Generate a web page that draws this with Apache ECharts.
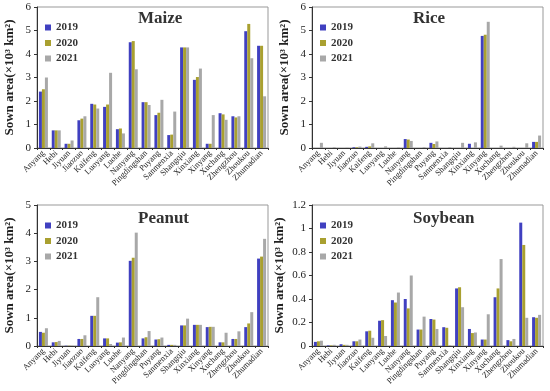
<!DOCTYPE html>
<html><head><meta charset="utf-8">
<script src="https://cdn.jsdelivr.net/npm/echarts@6/dist/echarts.min.js"></script>
<style>html,body{margin:0;padding:0;background:#fff}#c{width:550px;height:391px}</style>
</head><body><div id="c"></div>
<script>
const cities = ['Anyang','Hebi','Jiyuan','Jiaozuo','Kaifeng','Luoyang','Luohe','Nanyang','Pingdingshan','Puyang','Sanmenxia','Shangqiu','Xinxiang','Xinyang','Xuchang','Zhengzhou','Zhoukou','Zhumadian'];
const years = ['2019','2020','2021'];
const panelTitles = ['Maize','Rice','Peanut','Soybean'];

const maize2019 = [2.4,0.75,0.18,1.18,1.88,1.75,0.8,4.5,1.95,1.4,0.55,4.28,2.9,0.18,1.48,1.35,4.97,4.35];
const maize2020 = [2.5,0.75,0.18,1.25,1.85,1.85,0.83,4.55,1.95,1.5,0.57,4.28,3.02,0.18,1.43,1.3,5.28,4.35];
const maize2021 = [3.0,0.75,0.32,1.35,1.68,3.2,0.62,3.35,1.83,2.05,1.55,4.28,3.38,1.4,1.2,1.35,3.82,2.2];

const rice2019 = [0,0,0,0.03,0.05,0,0,0.38,0,0.22,0,0,0.18,4.77,0,0,0,0.26];
const rice2020 = [0,0,0,0.03,0.07,0,0,0.36,0,0.17,0,0,0,4.82,0,0,0,0.26];
const rice2021 = [0.22,0.03,0.01,0.06,0.2,0.07,0.02,0.3,0.03,0.28,0.03,0.22,0.24,5.37,0.1,0.05,0.2,0.53];

const peanut2019 = [0.5,0.13,0.01,0.25,1.07,0.27,0.12,3.02,0.27,0.23,0.04,0.73,0.75,0.67,0.13,0.25,0.67,3.1];
const peanut2020 = [0.47,0.14,0.01,0.25,1.07,0.27,0.13,3.13,0.31,0.24,0.04,0.73,0.75,0.68,0.13,0.25,0.8,3.17];
const peanut2021 = [0.63,0.18,0.01,0.38,1.73,0.07,0.3,4.02,0.53,0.3,0.04,0.97,0.75,0.68,0.47,0.52,1.2,3.8];

const soy2019 = [0.035,0.005,0.015,0.04,0.125,0.215,0.39,0.4,0.14,0.23,0.16,0.49,0.145,0.055,0.415,0.05,1.05,0.245];
const soy2020 = [0.04,0.005,0.01,0.04,0.13,0.22,0.37,0.32,0.14,0.225,0.155,0.5,0.11,0.055,0.49,0.04,0.86,0.24];
const soy2021 = [0.045,0.01,0.01,0.055,0.07,0.085,0.455,0.6,0.25,0.145,0.005,0.33,0.115,0.27,0.74,0.06,0.24,0.265];

const yMax = [6,6,5,1.2];
const yInterval = [1,1,1,0.2];
const colors = ['#4040c0','#a9a030','#a8a8a8'];
const panelData = [
  [maize2019,maize2020,maize2021],
  [rice2019,rice2020,rice2021],
  [peanut2019,peanut2020,peanut2021],
  [soy2019,soy2020,soy2021]
];

const serif = '"Liberation Serif","DejaVu Serif",serif';
const gridPos = [
  {left:37, top:7},
  {left:312, top:7},
  {left:37, top:205},
  {left:312, top:205}
];
const grids=[], xAxes=[], yAxes=[], series=[], titles=[], legends=[];
gridPos.forEach((g,i)=>{
  grids.push({left:g.left, top:g.top, width:231, height:141, show:true, borderColor:'#999', borderWidth:1, backgroundColor:'transparent'});
  xAxes.push({type:'category', gridIndex:i, data:cities,
    axisLine:{lineStyle:{color:'#333'}},
    axisTick:{show:true, length:2, lineStyle:{color:'#333'}},
    axisLabel:{rotate:45, interval:0, fontFamily:serif, fontSize:8.5, color:'#222', margin:4}});
  yAxes.push({type:'value', gridIndex:i, min:0, max:yMax[i], interval:yInterval[i],
    splitLine:{show:false},
    axisLine:{show:true, lineStyle:{color:'#333'}},
    axisTick:{show:true, length:3, lineStyle:{color:'#333'}},
    axisLabel:{fontFamily:serif, fontSize:11, color:'#222', margin:6,
      formatter:v=>String(Math.round(v*10)/10)},
    name:'Sown area(×10³ km²)', nameLocation:'middle', nameGap: i===3?26:21,
    nameTextStyle:{fontFamily:serif, fontSize:13, fontWeight:'bold', color:'#222'}});
  titles.push({text:panelTitles[i], left:g.left+96, top:g.top + (i>=2?0:-2),
    textStyle:{fontFamily:serif, fontSize:17, fontWeight:'bold', color:'#333'}});
  legends.push({data:years, orient:'vertical', left:g.left+3, top:g.top+10,
    itemWidth:6, itemHeight:6, itemGap:4.5, icon:'rect',
    textStyle:{fontFamily:serif, fontSize:11, color:'#333', fontWeight:'bold'}});
  years.forEach((y,k)=>{
    series.push({type:'bar', name:y, xAxisIndex:i, yAxisIndex:i, data:panelData[i][k],
      barWidth:3, barGap:'0%', itemStyle:{color:colors[k]}, animation:false});
  });
});

const chart = echarts.init(document.getElementById('c'));
chart.setOption({animation:false, grid:grids, xAxis:xAxes, yAxis:yAxes, series, title:titles, legend:legends});
</script></body></html>
